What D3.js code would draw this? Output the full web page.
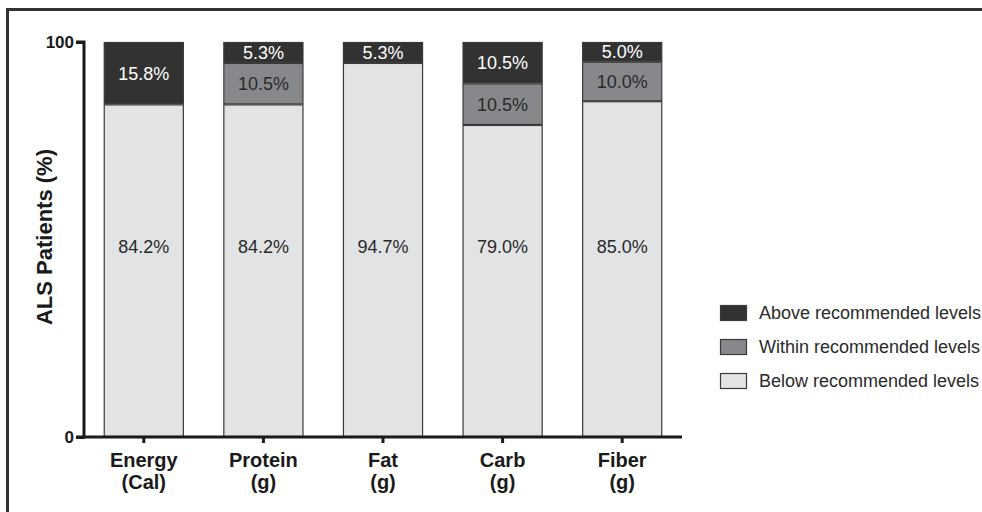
<!DOCTYPE html>
<html><head><meta charset="utf-8">
<script src="https://cdn.jsdelivr.net/npm/d3@7"></script>
<style>body{margin:0;background:#fff}svg{display:block;font-family:"Liberation Sans",Arial,sans-serif}</style>
</head><body><svg id="c" width="982" height="512"></svg>
<script>
const categories = ["Energy|(Cal)", "Protein|(g)", "Fat|(g)", "Carb|(g)", "Fiber|(g)"];
const below  = [84.2, 84.2, 94.7, 79.0, 85.0];
const within = [0, 10.5, 0, 10.5, 10.0];
const above  = [15.8, 5.3, 5.3, 10.5, 5.0];
const seriesNames = ["Above recommended levels", "Within recommended levels", "Below recommended levels"];
const yTicks = [0, 100];
const belowLabelLevel = 48.2; // below-series labels sit at a common height

const svg = d3.select("#c");
const colors = {below:"#e2e3e5", within:"#87888c", above:"#323232"};
const textColors = {below:"#2a2a2a", within:"#2a2a2a", above:"#ffffff"};

// frame
svg.append("path").attr("d","M7.5,512 V9.5 H982").attr("fill","none").attr("stroke","#333").attr("stroke-width",3);

const x = d3.scaleBand().domain(categories).range([84, 682]).paddingInner(0.33).paddingOuter(0.165);
const y = d3.scaleLinear().domain([0,100]).range([437, 42]);

const keys = ["below","within","above"];
const rows = categories.map((c,i)=>({cat:c, below:below[i], within:within[i], above:above[i]}));
const stack = d3.stack().keys(keys)(rows);

const g = svg.append("g");
stack.forEach(s=>{
  s.forEach((d,i)=>{
    const v = d[1]-d[0];
    if (v<=0) return;
    g.append("rect").attr("x", x(d.data.cat)+0.5).attr("width", x.bandwidth()-1)
      .attr("y", y(d[1])+0.5).attr("height", y(d[0])-y(d[1])-1)
      .attr("fill", colors[s.key]).attr("stroke","#3a3a3a").attr("stroke-width",1.2);
    const ly = s.key==="below" ? y(belowLabelLevel) : (y(d[0])+y(d[1]))/2;
    g.append("text").attr("x", x(d.data.cat)+x.bandwidth()/2)
      .attr("y", ly).attr("dy","0.36em")
      .attr("text-anchor","middle").attr("font-size",18)
      .attr("fill", textColors[s.key]).text(v.toFixed(1)+"%");
  });
});

// y axis
const ya = svg.append("g").attr("transform","translate(84,0)")
  .call(d3.axisLeft(y).tickValues(yTicks).tickSize(8).tickPadding(2));
ya.select(".domain").attr("stroke","#1a1a1a").attr("stroke-width",3).attr("d","M-8,42H0V437H-8");
ya.selectAll(".tick line").attr("stroke","#1a1a1a").attr("stroke-width",3);
ya.selectAll(".tick text").attr("font-size",17).attr("font-weight","bold").attr("fill","#1a1a1a")
  .attr("font-family","Liberation Sans, Arial, sans-serif");

// x axis
const xa = svg.append("g").attr("transform","translate(0,437)")
  .call(d3.axisBottom(x).tickSize(6).tickFormat(""));
xa.select(".domain").attr("stroke","#1a1a1a").attr("stroke-width",3).attr("d","M82.5,0H682");
xa.selectAll(".tick line").attr("stroke","#1a1a1a").attr("stroke-width",3);
categories.forEach(c=>{
  const parts = c.split("|");
  const t = svg.append("text").attr("text-anchor","middle").attr("font-size",20).attr("font-weight","bold").attr("fill","#1a1a1a");
  parts.forEach((p,k)=>t.append("tspan").attr("x", x(c)+x.bandwidth()/2).attr("y", 467+k*22).text(p));
});

// y label
svg.append("text").attr("transform","translate(52,237) rotate(-90)").attr("text-anchor","middle")
  .attr("font-size",22).attr("font-weight","bold").attr("fill","#1a1a1a").text("ALS Patients (%)");

// legend
const legCols = [colors.above, colors.within, colors.below];
seriesNames.forEach((n,i)=>{
  const yy = 313 + i*34;
  svg.append("rect").attr("x",720.5).attr("y",yy-7.5).attr("width",26).attr("height",15)
    .attr("fill",legCols[i]).attr("stroke","#3a3a3a").attr("stroke-width",1.2);
  svg.append("text").attr("x",759).attr("y",yy).attr("dy","0.36em").attr("font-size",18)
    .attr("fill","#2a2a2a").text(n);
});
</script></body></html>
